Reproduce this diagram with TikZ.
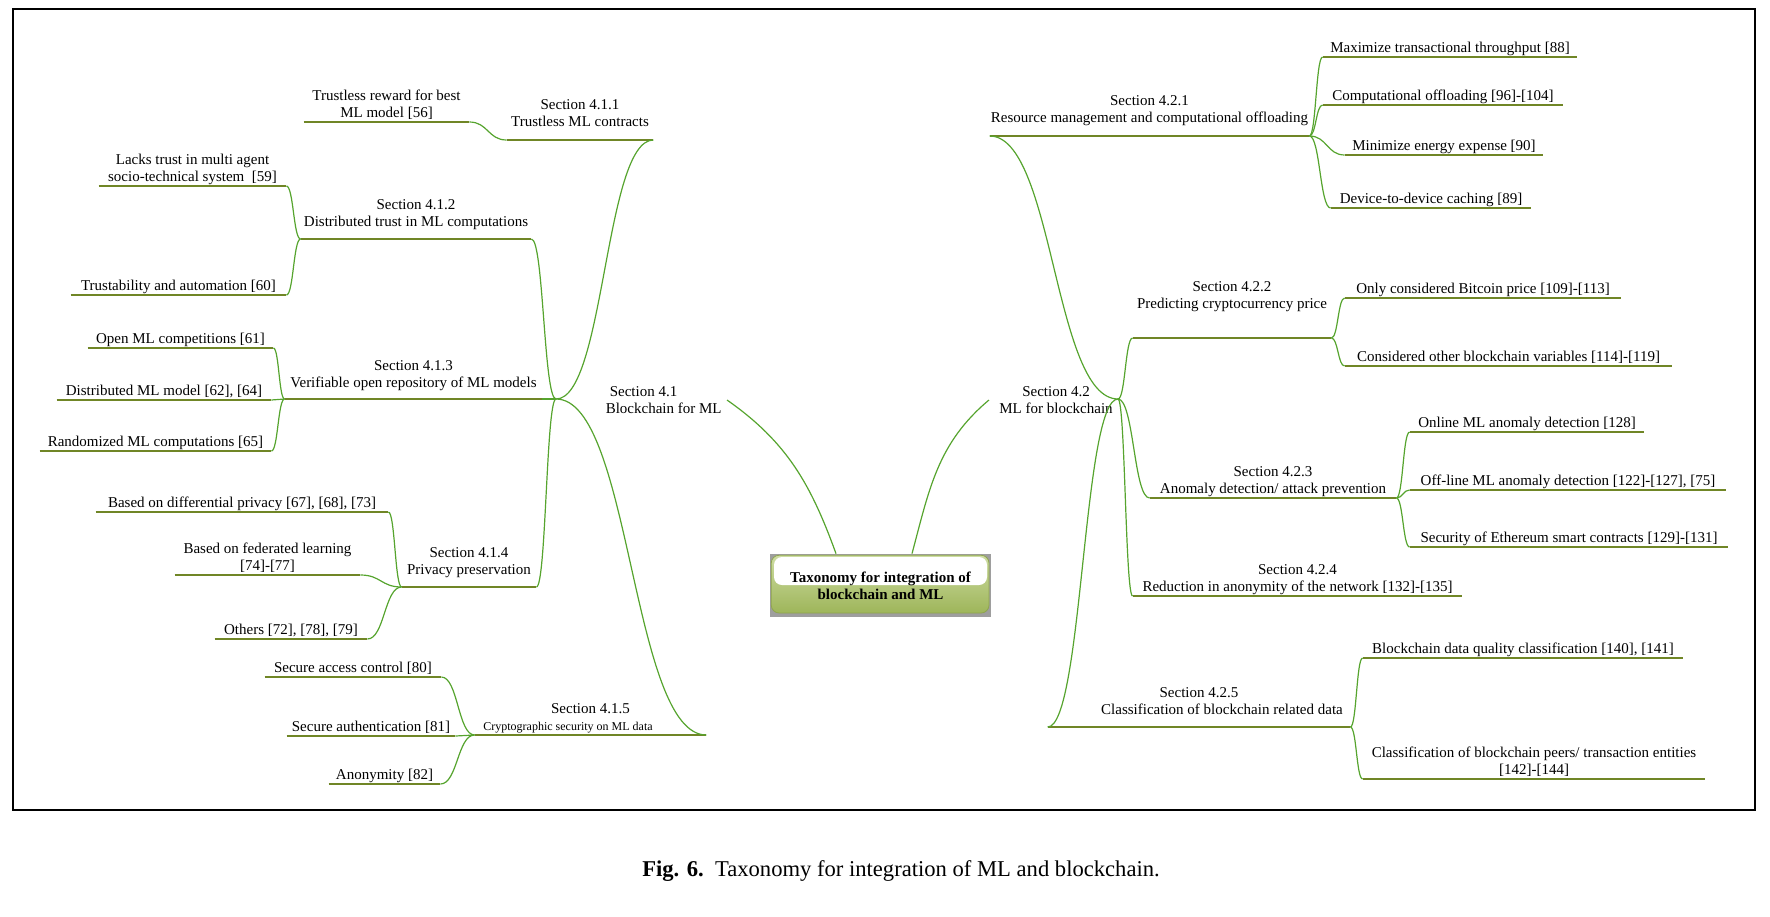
\documentclass[tikz,border=0pt]{standalone}
\usepackage{fontspec}
\setmainfont{Liberation Serif}
\usepackage{tikz}
\usetikzlibrary{calc}
\definecolor{olivebar}{RGB}{112,134,38}
\definecolor{twiggreen}{RGB}{86,164,46}
\definecolor{boxgrey}{RGB}{158,158,158}
\definecolor{boxgreen}{RGB}{168,194,92}

\begin{document}
\begin{tikzpicture}[x=0.5pt, y=-0.5pt,
    topic/.style={font=\fontsize{7.5}{8.5}\selectfont, align=center, anchor=south,
                  inner xsep=0pt, inner ysep=0pt, text depth=2pt,
                  append after command={(\tikzlastnode.south west) edge[uline] (\tikzlastnode.south east)}},
    uline/.style={draw=olivebar, line width=1.4pt},
    twig/.style={draw=twiggreen, line width=0.6pt,
                 to path={let \p1=(\tikztostart), \p2=(\tikztotarget), \n1={(\x1+\x2)/2} in
                          .. controls (\n1,\y1) and (\n1,\y2) .. (\tikztotarget)}},
    stem/.style={draw=twiggreen, line width=0.6pt},
    mainsec/.style={font=\fontsize{7.5}{8.5}\selectfont, inner sep=2.5pt},
    rootbox/.style={fill=boxgrey, minimum width=110.5pt, minimum height=31.5pt, inner sep=0pt,
                    font=\fontsize{7.5}{8.5}\selectfont\bfseries, align=center,
                    path picture={
                      \shade[top color=boxgreen!55!white, bottom color=boxgreen!92!black,
                             draw=boxgreen!85!black, line width=0.4pt, rounded corners=4pt]
                        ([shift={(0.6pt,-0.6pt)}]path picture bounding box.north west)
                        rectangle ([shift={(-1pt,2pt)}]path picture bounding box.south east);
                      \fill[white, rounded corners=4pt]
                        ([shift={(2pt,-1.5pt)}]path picture bounding box.north west)
                        rectangle ([shift={(-2pt,-15.5pt)}]path picture bounding box.north east);
                    }}
  ]
  \useasboundingbox (0,0) rectangle (1770,916);
  \draw[line width=0.65pt] (13,9) rectangle (1755,810);

  % --- root ---
  \node[rootbox] (root) at (880.5,585.5) {Taxonomy for integration of\\blockchain and ML};

  % --- main branches ---
  \node[mainsec, anchor=east, align=left] (s41) at (727,400) {\hspace*{2pt}Section 4.1\\Blockchain for ML};
  \node[mainsec, inner xsep=5pt, align=center] (s42) at (1056,400) {Section 4.2\\ML for blockchain};
  \coordinate (hubL) at (556,399);
  \coordinate (hubR) at (1118,399);
  \draw[stem] (s41.east) to[out=-35, in=110] ([xshift=-22.25pt]root.north);
  \draw[stem] (s42.west) to[out=-140, in=75] ([xshift=15.75pt]root.north);

  % --- sections (name/left/right/line y/text depth/text) ---
  \foreach \nm/\xa/\xb/\yl/\dep/\lab in {
      s411/507/653/140/6.75pt/{Section 4.1.1\\Trustless ML contracts},
      s412/301/531/239/6.25pt/{Section 4.1.2\\Distributed trust in ML computations},
      s413/285/542/399/5.75pt/{Section 4.1.3\\Verifiable open repository of ML models},
      s414/402/536/587/6.25pt/{Section 4.1.4\\Privacy preservation},
      s415/475/706/735/2pt/{Section 4.1.5\\{\fontsize{6}{7}\selectfont Cryptographic security on ML data}\hspace*{22.5pt}\mbox{}},
      s421/990/1309/136/6.75pt/{Section 4.2.1\\Resource management and computational offloading},
      s422/1133/1331/338/14.75pt/{Section 4.2.2\\Predicting cryptocurrency price},
      s423/1150/1396/498/2.25pt/{Section 4.2.3\\Anomaly detection/ attack prevention},
      s424/1133/1462/596/2.25pt/{Section 4.2.4\\Reduction in anonymity of the network [132]-[135]},
      s425/1048/1350/727/6.25pt/{Section 4.2.5\\\hspace*{23pt}Classification of blockchain related data}} {
    \node[topic, minimum width=(\xb-\xa)*0.5pt, text depth=\dep] (\nm) at ({(\xa+\xb)/2},\yl) {\lab};
  }

  % --- leaves ---
  \foreach \nm/\xa/\xb/\yl/\lab in {
      lreward/304/469/122/{Trustless reward for best\\ML model [56]},
      llacks/99/286/186/{Lacks trust in multi agent\\socio-technical system\ \ [59]},
      ltrust/71/286/295/{Trustability and automation [60]},
      lopen/88/273/348/{Open ML competitions [61]},
      ldistml/57/271/400/{Distributed ML model [62], [64]},
      lrandom/40/271/451/{Randomized ML computations [65]},
      ldiff/96/388/512/{Based on differential privacy [67], [68], [73]},
      lfed/175/360/575/{Based on federated learning\\{[74]}-[77]},
      lothers/215/367/639/{Others [72], [78], [79]},
      laccess/265/441/677/{Secure access control [80]},
      lauth/287/455/736/{Secure authentication [81]},
      lanon/329/440/784/{Anonymity [82]},
      rmax/1323/1577/57/{Maximize transactional throughput [88]},
      rcomp/1323/1563/105/{Computational offloading [96]-[104]},
      renergy/1345/1543/155/{Minimize energy expense [90]},
      rdtd/1331/1531/208/{Device-to-device caching [89]},
      rbtc/1345/1621/298/{Only considered Bitcoin price [109]-[113]},
      rvars/1345/1672/366/{Considered other blockchain variables [114]-[119]},
      ronline/1410/1644/432/{Online ML anomaly detection [128]},
      roffline/1410/1726/490/{Off-line ML anomaly detection [122]-[127], [75]},
      reth/1410/1728/547/{Security of Ethereum smart contracts [129]-[131]},
      rquality/1363/1683/658/{Blockchain data quality classification [140], [141]},
      rpeers/1363/1705/779/{Classification of blockchain peers/ transaction entities\\{[142]}-[144]}} {
    \node[topic, minimum width=(\xb-\xa)*0.5pt] (\nm) at ({(\xa+\xb)/2},\yl) {\lab};
  }

  % --- connectors, left half ---
  \foreach \s in {s411,s412,s413,s414,s415}
    \draw[twig] (hubL) to (\s.south east);
  \foreach \s/\l in {s411/lreward, s412/llacks, s412/ltrust, s413/lopen, s413/ldistml, s413/lrandom,
                     s414/ldiff, s414/lfed, s414/lothers, s415/laccess, s415/lauth, s415/lanon}
    \draw[twig] (\s.south west) to (\l.south east);

  % --- connectors, right half ---
  \foreach \s in {s421,s422,s423,s424,s425}
    \draw[twig] (hubR) to (\s.south west);
  \foreach \s/\l in {s421/rmax, s421/rcomp, s421/renergy, s421/rdtd, s422/rbtc, s422/rvars,
                     s423/ronline, s423/roffline, s423/reth, s425/rquality, s425/rpeers}
    \draw[twig] (\s.south east) to (\l.south west);

  % --- caption ---
  \node[font=\fontsize{11.3}{13}\selectfont] (caption) at (901,871)
       {\textbf{Fig. 6.}\ \ Taxonomy for integration of ML and blockchain.};
\end{tikzpicture}
\end{document}
